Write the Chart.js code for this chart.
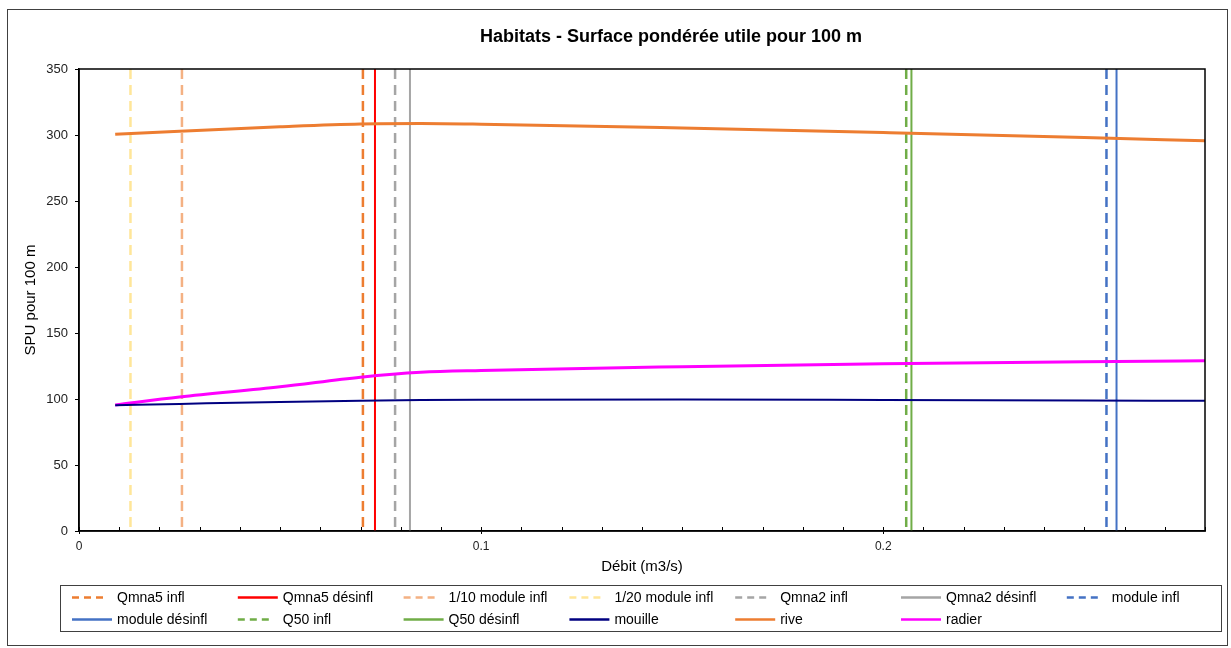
<!DOCTYPE html>
<html>
<head>
<meta charset="utf-8">
<title>Habitats - Surface pondérée utile pour 100 m</title>
<script src="https://cdn.jsdelivr.net/npm/chart.js@4/dist/chart.umd.min.js"></script>
<style>
  html, body { margin: 0; padding: 0; background: #ffffff; }
  canvas { display: block; }
</style>
</head>
<body>
<canvas id="spu" width="1231" height="648"></canvas>
<script>
// Débits (m3/s) où la SPU est calculée
const debits      = [0.009, 0.025, 0.05, 0.07, 0.085, 0.1, 0.15, 0.2, 0.25, 0.28];
// SPU pour 100 m par faciès
const spuMouille  = [95.3, 96.3, 97.8, 98.7, 99.2, 99.4, 99.6, 99.3, 98.9, 98.6];
const spuRive     = [300.5, 302.9, 306.3, 308.4, 308.7, 308.2, 305.3, 301.9, 298.2, 295.6];
const spuRadier   = [95.5, 101.5, 109.2, 116.5, 120.2, 121.6, 124.5, 126.7, 128.2, 129.0];

// Débits de référence (lignes verticales)
const repereNoms   = ['Qmna5 infl', 'Qmna5 désinfl', '1/10 module infl', '1/20 module infl',
                      'Qmna2 infl', 'Qmna2 désinfl', 'module infl', 'module désinfl',
                      'Q50 infl', 'Q50 désinfl'];
const repereDebits = [0.0706, 0.0736, 0.0256, 0.0128, 0.0786, 0.0823, 0.2555, 0.2580, 0.2057, 0.2070];
// tracées du haut vers le bas
const repereBornes = [350, 0];

// Graduations
const yTicks = [0, 50, 100, 150, 200, 250, 300, 350];
const xLabels = [0, 0.1, 0.2];

const FONT = '"Liberation Sans", Arial, Helvetica, sans-serif';

const repereStyles = [
  { color: '#ED7D31', dash: [10, 6] },
  { color: '#FF0000', dash: [] },
  { color: '#F4B183', dash: [10, 6] },
  { color: '#FFE699', dash: [10, 6] },
  { color: '#A5A5A5', dash: [10, 6] },
  { color: '#A5A5A5', dash: [] },
  { color: '#4472C4', dash: [10, 6] },
  { color: '#4472C4', dash: [] },
  { color: '#70AD47', dash: [10, 6] },
  { color: '#70AD47', dash: [] }
];

const datasets = repereNoms.map((nom, i) => ({
  label: nom,
  data: repereBornes.map(y => ({ x: repereDebits[i], y })),
  borderColor: repereStyles[i].color,
  backgroundColor: repereStyles[i].color,
  borderDash: repereStyles[i].dash,
  borderWidth: repereStyles[i].dash.length ? 2.5 : 2,
  pointRadius: 0,
  showLine: true,
  order: 1
}));

const courbes = [
  { label: 'mouille', values: spuMouille, color: '#000080', width: 2 },
  { label: 'rive',    values: spuRive,    color: '#ED7D31', width: 3 },
  { label: 'radier',  values: spuRadier,  color: '#FF00FF', width: 3 }
];
courbes.forEach(c => datasets.push({
  label: c.label,
  data: debits.map((d, i) => ({ x: d, y: c.values[i] })),
  borderColor: c.color,
  backgroundColor: c.color,
  borderDash: [],
  borderWidth: c.width,
  pointRadius: 0,
  showLine: true,
  cubicInterpolationMode: 'monotone',
  order: 0
}));

// Fond blanc, cadre général et titre
const cadre = {
  id: 'cadre',
  beforeDraw(chart) {
    const ctx = chart.ctx;
    ctx.save();
    ctx.fillStyle = '#ffffff';
    ctx.fillRect(0, 0, chart.width, chart.height);
    ctx.restore();
  },
  afterDatasetsDraw(chart) {
    const { ctx, chartArea: a, scales } = chart;
    ctx.save();
    // graduations secondaires vers l'intérieur
    ctx.strokeStyle = '#000';
    ctx.lineWidth = 1;
    ctx.beginPath();
    for (let i = 0; i <= 28; i++) {
      const px = Math.round(scales.x.getPixelForValue(i / 100)) + 0.5;
      ctx.moveTo(px, a.bottom);
      ctx.lineTo(px, a.bottom - 4);
    }
    ctx.stroke();
    // cadre de la zone de tracé
    ctx.lineWidth = 1.5;
    ctx.strokeStyle = '#000';
    ctx.strokeRect(a.left, a.top, a.right - a.left, a.bottom - a.top);
    ctx.restore();
  },
  afterDraw(chart) {
    const ctx = chart.ctx;
    ctx.save();
    ctx.strokeStyle = '#404040';
    ctx.lineWidth = 1;
    ctx.strokeRect(7.5, 9.5, 1220, 636);
    ctx.fillStyle = '#000';
    ctx.font = 'bold 18px ' + FONT;
    ctx.textAlign = 'center';
    ctx.textBaseline = 'middle';
    ctx.fillText('Habitats - Surface pondérée utile pour 100 m', 671, 37);
    ctx.restore();
  }
};

// Légende en grille de 7 colonnes
const legendeGrille = {
  id: 'legendeGrille',
  afterDraw(chart) {
    const ctx = chart.ctx;
    ctx.save();
    ctx.strokeStyle = '#404040';
    ctx.lineWidth = 1;
    ctx.strokeRect(60.5, 585.5, 1161, 46);
    ctx.font = '14px ' + FONT;
    ctx.textBaseline = 'middle';
    ctx.textAlign = 'left';
    chart.data.datasets.forEach((ds, i) => {
      const col = i % 7, row = Math.floor(i / 7);
      const x = 72 + col * 165.8;
      const y = 597.5 + row * 22;
      const dashed = ds.borderDash && ds.borderDash.length;
      ctx.beginPath();
      ctx.setLineDash(dashed ? [7, 5] : []);
      ctx.strokeStyle = ds.borderColor;
      ctx.lineWidth = 2.5;
      ctx.moveTo(x, y);
      ctx.lineTo(x + (dashed ? 31 : 40), y);
      ctx.stroke();
      ctx.setLineDash([]);
      ctx.fillStyle = '#000';
      ctx.fillText(ds.label, x + 45, y + 1);
    });
    ctx.restore();
  }
};

new Chart(document.getElementById('spu'), {
  type: 'scatter',
  data: { datasets },
  plugins: [cadre, legendeGrille],
  options: {
    responsive: false,
    animation: false,
    devicePixelRatio: 1,
    layout: { padding: { left: 0, right: 26, top: 69, bottom: 67 } },
    plugins: {
      legend: { display: false },
      title: { display: false },
      tooltip: { enabled: false }
    },
    scales: {
      x: {
        type: 'linear',
        min: 0,
        max: 0.28,
        afterFit(s) { s.height = 50; },
        afterBuildTicks(s) { s.ticks = xLabels.map(v => ({ value: v })); },
        ticks: {
          includeBounds: false,
          padding: 5,
          color: '#222',
          font: { family: FONT, size: 12 },
          callback: v => String(v)
        },
        grid: { drawOnChartArea: false, drawTicks: true, tickLength: 3, tickColor: '#000' },
        border: { display: true, color: '#000', width: 1.5 },
        title: {
          display: true,
          text: 'Débit (m3/s)',
          color: '#000',
          font: { family: FONT, size: 15 },
          padding: { top: 0, bottom: 5 }
        }
      },
      y: {
        type: 'linear',
        min: 0,
        max: 350,
        afterFit(s) { s.width = 79; },
        afterBuildTicks(s) { s.ticks = yTicks.map(v => ({ value: v })); },
        ticks: {
          padding: 7,
          color: '#222',
          font: { family: FONT, size: 13 },
          callback: v => String(v)
        },
        grid: { drawOnChartArea: false, drawTicks: true, tickLength: 4, tickColor: '#000' },
        border: { display: true, color: '#000', width: 1.5 },
        title: {
          display: true,
          text: 'SPU pour 100 m',
          color: '#000',
          font: { family: FONT, size: 15 },
          padding: { top: 22, bottom: 0 }
        }
      }
    }
  }
});
</script>
</body>
</html>
